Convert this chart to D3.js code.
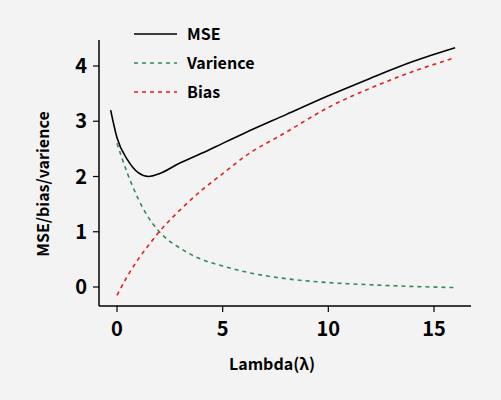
<!DOCTYPE html><html><head><meta charset="utf-8"><script src="https://cdn.jsdelivr.net/npm/d3@7"></script>
<style>body{margin:0;background:#f3f3f3}svg{font-family:"Noto Sans CJK SC","Noto Sans",sans-serif}</style></head><body><svg id="c" width="501" height="400"></svg>
<script>
const xTicks=[0,5,10,15];
const yTicks=[0,1,2,3,4];
const mseX=[-0.3,0,0.5,1,1.5,2,3,4,5,6,8,10,12,14,16];
const mseY=[3.2,2.7,2.3,2.07,2.0,2.05,2.25,2.42,2.6,2.78,3.12,3.46,3.78,4.08,4.33];
const varX=[0,0.5,1,1.5,2,3,4,5,6,8,10,12,14,16];
const varY=[2.6,2.05,1.6,1.25,1.0,0.7,0.5,0.38,0.28,0.15,0.08,0.04,0.01,-0.01];
const biasX=[0,0.5,1,1.5,2,3,4,5,6,8,10,12,14,16];
const biasY=[-0.15,0.2,0.5,0.76,1.0,1.4,1.75,2.05,2.35,2.8,3.25,3.6,3.9,4.15];
const svg=d3.select("#c");
const x=d3.scaleLinear().domain([0,15]).range([117,434]);
const y=d3.scaleLinear().domain([0,4]).range([287,66]);
const L=99,B=306;
svg.append("line").attr("x1",L).attr("x2",L).attr("y1",40).attr("y2",B).attr("stroke","#000").attr("stroke-width",1.5);
svg.append("line").attr("x1",L).attr("x2",471).attr("y1",B).attr("y2",B).attr("stroke","#000").attr("stroke-width",1.5);
xTicks.forEach(t=>{svg.append("line").attr("x1",x(t)).attr("x2",x(t)).attr("y1",B).attr("y2",B+6).attr("stroke","#000").attr("stroke-width",1.2);
 svg.append("text").attr("x",x(t)).attr("y",B+30).attr("text-anchor","middle").attr("font-size",20).attr("font-weight","600").text(t);});
yTicks.forEach(t=>{svg.append("line").attr("x1",L).attr("x2",L-6).attr("y1",y(t)).attr("y2",y(t)).attr("stroke","#000").attr("stroke-width",1.2);
 svg.append("text").attr("x",L-12).attr("y",y(t)+7).attr("text-anchor","end").attr("font-size",20).attr("font-weight","600").text(t);});
svg.append("text").attr("x",272).attr("y",370).attr("text-anchor","middle").attr("font-size",16).attr("font-weight","600").text("Lambda(λ)");
svg.append("text").attr("transform","translate(49,184) rotate(-90)").attr("text-anchor","middle").attr("font-size",16).attr("font-weight","600").text("MSE/bias/varience");
const line=d3.line().curve(d3.curveMonotoneX).x(d=>x(d[0])).y(d=>y(d[1]));
const series=[[mseX,mseY,"#000",null,"MSE"],[varX,varY,"#2e8b57","4,4","Varience"],[biasX,biasY,"#e02020","4,4","Bias"]];
series.forEach((s,i)=>{svg.append("path").attr("d",line(d3.zip(s[0],s[1]))).attr("fill","none").attr("stroke",s[2]).attr("stroke-width",1.6).attr("stroke-dasharray",s[3]);
 const ly=34+i*29;
 svg.append("line").attr("x1",134).attr("x2",177).attr("y1",ly).attr("y2",ly).attr("stroke",s[2]).attr("stroke-width",1.6).attr("stroke-dasharray",s[3]);
 svg.append("text").attr("x",187).attr("y",ly+6).attr("font-size",16).attr("font-weight","600").text(s[4]);});
</script></body></html>
